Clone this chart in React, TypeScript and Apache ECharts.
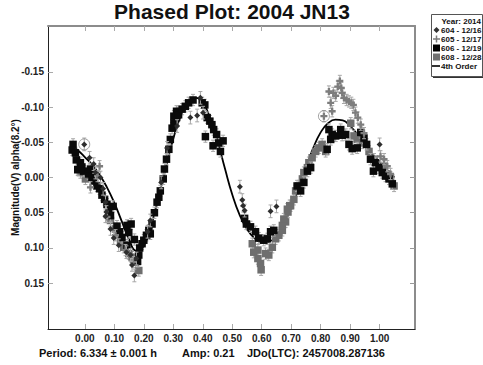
import React, { useEffect, useRef } from "react";
import * as echarts from "echarts";

// Session 604 (2014-12-16): [phase, magnitude]
const s604: number[][] = [
  [-0.002, -0.047], [0.016, -0.028], [0.03, -0.019], [0.036, -0.007], [0.053, 0.0],
  [0.062, 0.016], [0.07, 0.035], [0.073, 0.049], [0.07, 0.055], [0.087, 0.073],
  [0.098, 0.086], [0.115, 0.096], [0.141, 0.106], [0.155, 0.11], [0.168, 0.139],
  [0.16, 0.124], [0.175, 0.115], [0.213, 0.077], [0.222, 0.061], [0.259, 0.007],
  [0.279, -0.042], [0.313, -0.073], [0.358, -0.085], [0.381, -0.088], [0.392, -0.113],
  [0.401, -0.092], [0.526, 0.013], [0.534, 0.032], [0.537, 0.04], [0.542, 0.047],
  [0.63, 0.048], [0.65, 0.041], [1.0, -0.047],
];

// Session 605 (2014-12-17)
const s605: number[][] = [
  [0.05, -0.016], [0.043, -0.002], [0.019, 0.014], [0.075, 0.056], [0.104, 0.082],
  [0.138, 0.103], [0.164, 0.12], [0.811, -0.087], [0.828, -0.122], [0.834, -0.106],
  [0.839, -0.094], [0.843, -0.12], [0.851, -0.116], [0.858, -0.129], [0.865, -0.137],
  [0.87, -0.127], [0.873, -0.12], [0.879, -0.113], [0.888, -0.11], [0.896, -0.108],
  [0.904, -0.106], [0.911, -0.103], [0.918, -0.092], [0.926, -0.085], [0.936, -0.075],
  [0.947, -0.063], [1.003, -0.03], [1.015, -0.026], [1.026, -0.016], [1.037, -0.005],
];

// Session 606 (2014-12-19)
const s606: number[][] = [
  [-0.04, -0.047], [-0.043, -0.039], [-0.032, -0.035], [-0.029, -0.025], [-0.024, -0.011],
  [-0.015, -0.021], [-0.01, -0.015], [-0.004, -0.009], [0.013, -0.005], [0.019, -0.012],
  [0.024, 0.0], [0.03, 0.005], [0.041, 0.012], [0.05, 0.016], [0.058, 0.025],
  [0.067, 0.031], [0.075, 0.038], [0.096, 0.041], [0.081, 0.045], [0.087, 0.054],
  [0.109, 0.069], [0.118, 0.077], [0.126, 0.085], [0.143, 0.068], [0.157, 0.066],
  [0.149, 0.078], [0.143, 0.096], [0.168, 0.088], [0.186, 0.1], [0.183, 0.11],
  [0.179, 0.119], [0.194, 0.094], [0.2, 0.089], [0.209, 0.082], [0.217, 0.075],
  [0.222, 0.08], [0.228, 0.066], [0.236, 0.05], [0.245, 0.035], [0.251, 0.028],
  [0.256, 0.019], [0.266, 0.002], [0.27, -0.012], [0.277, -0.026], [0.285, -0.04],
  [0.29, -0.054], [0.296, -0.07], [0.302, -0.077], [0.311, -0.085], [0.315, -0.092],
  [0.302, -0.087], [0.311, -0.094], [0.318, -0.089], [0.33, -0.097], [0.341, -0.101],
  [0.352, -0.106], [0.367, -0.11], [0.398, -0.106], [0.407, -0.103], [0.409, -0.058],
  [0.415, -0.085], [0.424, -0.08], [0.431, -0.075], [0.435, -0.045], [0.437, -0.068],
  [0.447, -0.061], [0.454, -0.049], [0.46, -0.037], [0.469, -0.052], [0.542, 0.058],
  [0.548, 0.066], [0.562, 0.07], [0.579, 0.077], [0.59, 0.086], [0.607, 0.089],
  [0.619, 0.087], [0.63, 0.077], [0.641, 0.075], [0.72, 0.012], [0.732, 0.019],
  [0.743, 0.007], [0.755, -0.009], [0.766, -0.014], [0.822, -0.04], [0.828, -0.068],
  [0.839, -0.061], [0.834, -0.054], [0.851, -0.059], [0.868, -0.068], [0.873, -0.06],
  [0.885, -0.061], [0.896, -0.047], [0.907, -0.041], [0.924, -0.042], [0.936, -0.064],
  [0.947, -0.056], [0.956, -0.047], [0.969, -0.026], [0.979, -0.009], [0.986, -0.021],
  [0.998, -0.014], [1.009, -0.007], [1.02, -0.002], [1.032, 0.002], [1.043, 0.009],
];

// Session 608 (2014-12-28)
const s608: number[][] = [
  [-0.015, -0.007], [0.002, 0.002], [0.087, 0.061], [0.104, 0.073], [0.121, 0.089],
  [0.132, 0.099], [0.149, 0.108], [0.16, 0.113], [0.171, 0.12], [0.183, 0.132],
  [0.568, 0.094], [0.573, 0.106], [0.587, 0.103], [0.587, 0.115], [0.596, 0.122],
  [0.598, 0.131], [0.613, 0.108], [0.624, 0.11], [0.636, 0.099], [0.647, 0.087],
  [0.658, 0.082], [0.67, 0.075], [0.681, 0.063], [0.689, 0.049], [0.695, 0.04],
  [0.67, 0.068], [0.675, 0.059], [0.687, 0.045], [0.698, 0.04], [0.709, 0.031],
  [0.715, 0.019], [0.726, 0.012], [0.738, 0.002], [0.743, -0.007], [0.755, -0.014],
  [0.76, -0.021], [0.771, -0.028], [0.783, -0.037], [0.794, -0.042], [0.805, -0.047],
  [0.817, -0.037], [0.902, -0.077], [0.913, -0.059], [0.924, -0.054], [0.941, -0.049],
  [0.964, -0.037], [0.981, -0.026], [1.015, -0.016], [1.024, -0.005], [1.037, 0.0],
  [1.049, 0.012],
];

// 4th-order Fourier fit
const fit: number[][] = [
  [-0.05, -0.047], [-0.025, -0.039], [0.0, -0.029], [0.025, -0.018], [0.05, -0.004],
  [0.075, 0.014], [0.1, 0.036], [0.125, 0.062], [0.15, 0.088], [0.175, 0.104],
  [0.2, 0.097], [0.225, 0.068], [0.25, 0.028], [0.275, -0.015], [0.3, -0.055],
  [0.325, -0.087], [0.35, -0.106], [0.375, -0.113], [0.4, -0.106], [0.425, -0.084],
  [0.45, -0.052], [0.475, -0.013], [0.5, 0.024], [0.525, 0.053], [0.55, 0.073],
  [0.575, 0.086], [0.6, 0.092], [0.625, 0.091], [0.65, 0.082], [0.675, 0.066],
  [0.7, 0.043], [0.725, 0.015], [0.75, -0.014], [0.775, -0.042], [0.8, -0.064],
  [0.825, -0.077], [0.85, -0.082], [0.875, -0.081], [0.9, -0.073], [0.925, -0.061],
  [0.95, -0.047], [0.975, -0.033], [1.0, -0.022], [1.025, -0.01], [1.05, 0.0],
];

// Points flagged with a ring
const circled: number[][] = [[-0.002, -0.047], [0.811, -0.087]];

// Photometric error of each session (mag)
const err604 = 0.009;
const err605 = 0.008;
const err606 = 0.008;
const err608 = 0.008;

const xTicks = [0, 0.1, 0.2, 0.3, 0.4, 0.5, 0.6, 0.7, 0.8, 0.9, 1.0];
const yTicks = [-0.15, -0.1, -0.05, 0, 0.05, 0.1, 0.15];

const FONT = '"Liberation Sans", Arial, sans-serif';
const PLUS = "path://M2,0H4V2H6V4H4V6H2V4H0V2H2Z";

function errorBars(points: number[][], err: number, z: number) {
  return {
    type: "custom",
    silent: true,
    clip: true,
    z,
    data: points,
    encode: { x: 0, y: 1 },
    renderItem: (_p: any, api: any) => {
      const x = api.value(0);
      const y = api.value(1);
      const a = api.coord([x, y - err]);
      const b = api.coord([x, y + err]);
      const hw = 2;
      const style = { stroke: "#a8a8a8", lineWidth: 1 };
      return {
        type: "group",
        children: [
          { type: "line", shape: { x1: a[0], y1: a[1], x2: b[0], y2: b[1] }, style },
          { type: "line", shape: { x1: a[0] - hw, y1: a[1], x2: a[0] + hw, y2: a[1] }, style },
          { type: "line", shape: { x1: b[0] - hw, y1: b[1], x2: b[0] + hw, y2: b[1] }, style },
        ],
      };
    },
  };
}

export default function App() {
  const ref = useRef<HTMLDivElement>(null);

  useEffect(() => {
    if (!ref.current) return;
    const chart = echarts.init(ref.current, undefined, { renderer: "svg" });

    const legendRows = [
      { label: "604 - 12/16", symbol: "diamond", color: "#333" },
      { label: "605 - 12/17", symbol: "plus", color: "#7a7a7a" },
      { label: "606 - 12/19", symbol: "square", color: "#000" },
      { label: "608 - 12/28", symbol: "square", color: "#707070" },
      { label: "4th Order", symbol: "line", color: "#000" },
    ];

    const legendChildren: any[] = [
      { type: "rect", shape: { x: 433, y: 16, width: 50, height: 62 }, style: { fill: "#333" } },
      { type: "rect", shape: { x: 431.5, y: 14.5, width: 51, height: 62 }, style: { fill: "#fff", stroke: "#555", lineWidth: 1 } },
      {
        type: "text",
        style: { text: "Year: 2014", x: 481, y: 21, align: "right", verticalAlign: "middle", font: `bold 8px ${FONT}`, fill: "#111" },
      },
    ];
    legendRows.forEach((r, i) => {
      const y = 30 + i * 9;
      if (r.symbol === "diamond") {
        legendChildren.push({ type: "polygon", shape: { points: [[436.5, y - 3], [439.5, y], [436.5, y + 3], [433.5, y]] }, style: { fill: r.color } });
      } else if (r.symbol === "plus") {
        legendChildren.push({ type: "rect", shape: { x: 433, y: y - 0.75, width: 7, height: 1.5 }, style: { fill: r.color } });
        legendChildren.push({ type: "rect", shape: { x: 435.75, y: y - 3.5, width: 1.5, height: 7 }, style: { fill: r.color } });
      } else if (r.symbol === "square") {
        legendChildren.push({ type: "rect", shape: { x: 433, y: y - 3.5, width: 7, height: 7 }, style: { fill: r.color } });
      } else {
        legendChildren.push({ type: "line", shape: { x1: 432, y1: y, x2: 440, y2: y }, style: { stroke: r.color, lineWidth: 1.6 } });
      }
      legendChildren.push({
        type: "text",
        style: { text: r.label, x: 441, y, align: "left", verticalAlign: "middle", font: `bold 8px ${FONT}`, fill: "#111" },
      });
    });

    const scatter = (name: string, data: number[][], symbol: string, size: number, color: string, z: number) => ({
      name,
      type: "scatter",
      data,
      symbol,
      symbolSize: size,
      itemStyle: { color, opacity: 1 },
      z,
      silent: true,
    });

    const bottomText = (text: string, x: number) => ({
      type: "text",
      style: { text, x, y: 353, verticalAlign: "middle", font: `bold 11px ${FONT}`, fill: "#111" },
    });

    chart.setOption({
      animation: false,
      backgroundColor: "#fff",
      textStyle: { fontFamily: FONT },
      title: {
        text: "Phased Plot: 2004 JN13",
        left: 232,
        top: 0,
        padding: 0,
        textAlign: "center",
        textStyle: { fontFamily: FONT, fontWeight: "bold", fontSize: 21, lineHeight: 22, color: "#111" },
      },
      grid: { left: 48, top: 26, right: 68, bottom: 36, outerBoundsMode: "none", containLabel: false },
      xAxis: [
        {
          type: "value",
          min: -0.125,
          max: 1.12,
          position: "bottom",
          splitLine: { show: false },
          axisLine: { show: true, onZero: false, lineStyle: { color: "#222", width: 1 } },
          axisTick: { show: true, inside: true, length: 5, customValues: xTicks, lineStyle: { color: "#aaa" } },
          axisLabel: {
            customValues: xTicks,
            formatter: (v: number) => v.toFixed(2),
            fontFamily: FONT,
            fontWeight: "bold",
            fontSize: 10,
            color: "#222",
            margin: 4,
          },
        },
        {
          type: "value",
          min: -0.125,
          max: 1.12,
          position: "top",
          splitLine: { show: false },
          axisLine: { show: true, onZero: false, lineStyle: { color: "#8c8c8c", width: 2 } },
          axisTick: { show: true, inside: true, length: 5, customValues: xTicks, lineStyle: { color: "#aaa" } },
          axisLabel: { show: false },
        },
      ],
      yAxis: [
        {
          type: "value",
          inverse: true,
          min: -0.215,
          max: 0.215,
          position: "left",
          splitLine: { show: false },
          axisLine: { show: true, onZero: false, lineStyle: { color: "#222", width: 1 } },
          axisTick: { show: true, inside: true, length: 5, customValues: yTicks, lineStyle: { color: "#aaa" } },
          axisLabel: {
            customValues: yTicks,
            formatter: (v: number) => v.toFixed(2),
            fontFamily: FONT,
            fontWeight: "bold",
            fontSize: 10,
            color: "#222",
            margin: 4,
          },
          name: "Magnitude(V) alpha(8.2°)",
          nameLocation: "middle",
          nameGap: 28,
          nameMoveOverlap: false,
          nameTextStyle: { fontFamily: FONT, fontWeight: "bold", fontSize: 10, color: "#111" },
        },
        {
          type: "value",
          inverse: true,
          min: -0.215,
          max: 0.215,
          position: "right",
          splitLine: { show: false },
          axisLine: { show: true, onZero: false, lineStyle: { color: "#8c8c8c", width: 2 } },
          axisTick: { show: true, inside: true, length: 5, customValues: yTicks, lineStyle: { color: "#999" } },
          axisLabel: { show: false },
        },
      ],
      series: [
        {
          name: "4th Order",
          type: "line",
          data: fit,
          smooth: true,
          showSymbol: false,
          lineStyle: { color: "#000", width: 1.8 },
          z: 2,
          silent: true,
        },
        errorBars(s608, err608, 3),
        scatter("608 - 12/28", s608, "rect", 7.5, "#6e6e6e", 4),
        errorBars(s606, err606, 5),
        scatter("606 - 12/19", s606, "rect", 7.5, "#0a0a0a", 6),
        errorBars(s605, err605, 7),
        scatter("605 - 12/17", s605, PLUS, 7, "#7d7d7d", 8),
        errorBars(s604, err604, 9),
        scatter("604 - 12/16", s604, "diamond", 6, "#2e2e2e", 10),
        {
          type: "scatter",
          data: circled,
          symbol: "circle",
          symbolSize: 11,
          itemStyle: { color: "rgba(0,0,0,0)", borderColor: "#8a8a8a", borderWidth: 1 },
          z: 11,
          silent: true,
        },
      ],
      graphic: [
        { type: "group", children: legendChildren },
        bottomText("Period: 6.334 ± 0.001 h", 39),
        bottomText("Amp: 0.21", 182),
        bottomText("JDo(LTC): 2457008.287136", 247),
      ],
    });

    return () => chart.dispose();
  }, []);

  return <div ref={ref} style={{ width: 483, height: 365, position: "absolute", left: 0, top: 0 }} />;
}
